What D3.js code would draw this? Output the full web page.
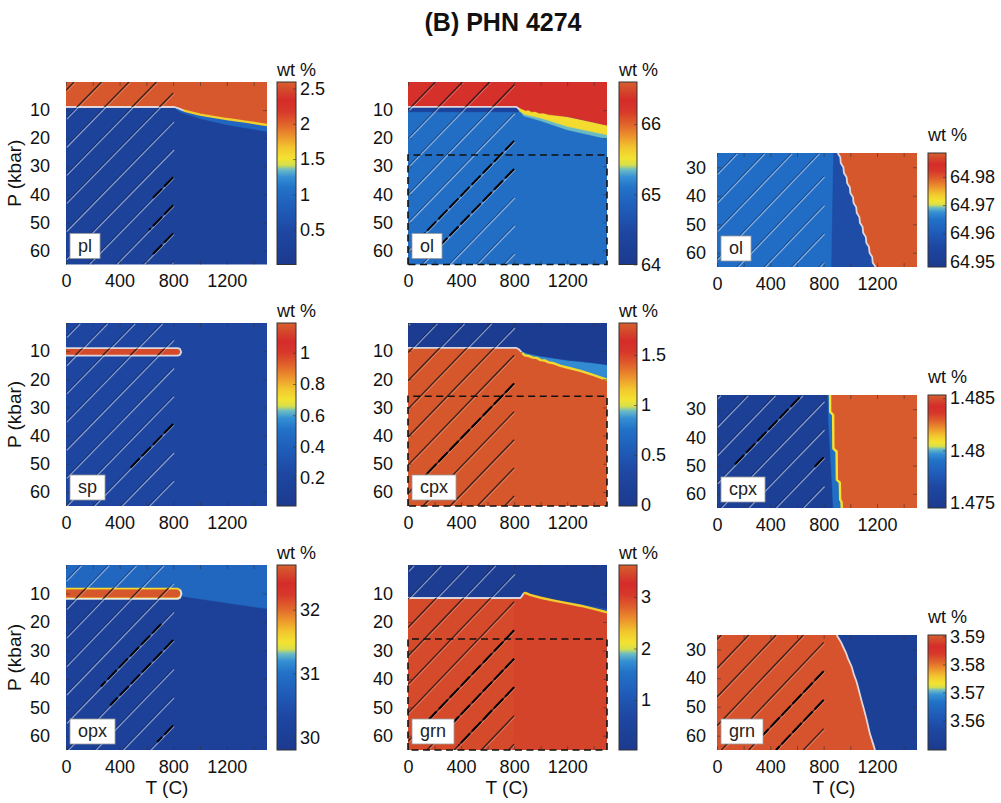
<!DOCTYPE html>
<html><head><meta charset="utf-8">
<script src="https://cdn.jsdelivr.net/npm/d3@7"></script>
<style>
html,body{margin:0;padding:0;background:#fff;}
svg{display:block;font-family:"Liberation Sans",Arial,Helvetica,sans-serif;}
</style></head><body>
<svg id="chart" width="1001" height="803"></svg>
<script>
// ================= DATA =================
const chartTitle = "(B) PHN 4274";
const tempDomain = [0, 1500];
const tempTicks = [0, 400, 800, 1200];
const tempMinorTicks = [0, 200, 400, 600, 800, 1000, 1200, 1400];
const pressDomainFull = [0, 65];
const pressDomainDeep = [25, 65];
const pressTicksFull = [10, 20, 30, 40, 50, 60];
const pressTicksDeep = [30, 40, 50, 60];
const pressMinorFull = [10, 20, 30, 40, 50, 60];
const hatchSlope = 20.5;      // degC per kbar along hatch lines
const hatchTmax = 800;        // hatched (sub-solidus) field ends at 800 C
const dashedBoxP = 26;        // dashed box upper edge (kbar)
const unitLabel = "wt %";
const xTitle = "T (C)";
const yTitle = "P (kbar)";

// colour-bar ranges and ticks
const plScale = [0.01, 2.59],        plTicks = [0.5, 1, 1.5, 2, 2.5];
const olScale = [64, 66.6],          olTicks = [64, 65, 66];
const olDeepScale = [64.948, 64.9885], olDeepTicks = [64.95, 64.96, 64.97, 64.98];
const spScale = [0.02, 1.19],        spTicks = [0.2, 0.4, 0.6, 0.8, 1];
const cpxScale = [-0.01, 1.82],      cpxTicks = [0, 0.5, 1, 1.5];
const cpxDeepScale = [1.4745, 1.4853], cpxDeepTicks = [1.475, 1.48, 1.485];
const opxScale = [29.8, 32.7],       opxTicks = [30, 31, 32];
const grnScale = [0.03, 3.62],       grnTicks = [1, 2, 3];
const grnDeepScale = [3.5495, 3.5905], grnDeepTicks = [3.56, 3.57, 3.58, 3.59];

// ---- fields: regions [T, P] with wt% value ----
const plRegions = [
  {v: 0.30, pts: "full"},
  {v: 0.95, pts: [[820,9.3],[1000,11.6],[1200,13.3],[1500,15.3],[1500,17.6],[1200,15.2],[1000,13.0],[860,10.8],[820,9.6]]},
  {v: 2.55, pts: [[0,0],[1500,0],[1500,15.3],[1350,14.2],[1200,13.2],[1000,11.6],[880,10.2],[840,9.4],[810,8.9],[0,8.9]]}
];
const plEdges = [
  {v: null, pts: [[0,8.9],[810,8.9],[840,9.4],[880,10.2]]},
  {v: 1.62, pts: [[880,10.2],[1000,11.6],[1200,13.2],[1350,14.2],[1500,15.3]]}
];
const plHatch = [60,265,470,675,880,1085,1290,1495,1700,1905,2110];
const plDark = [[1495,640,800],[1700,620,800],[1905,640,800]];

const olRegions = [
  {v: 65.04, pts: "full"},
  {v: 64.30, pts: [[0,8.9],[815,8.9],[835,10.6],[0,10.6]]},
  {v: 65.35, pts: [[850,10.5],[1000,12.5],[1200,15.5],[1500,18.6],[1500,20.2],[1200,17],[1000,13.8],[870,12]]},
  {v: 65.55, pts: [[830,9.2],[900,10],[1000,11],[1200,12.5],[1500,15.5],[1500,18.8],[1200,15.8],[1000,12.8],[880,11.5],[840,10.4]]},
  {v: 66.29, pts: [[0,0],[1500,0],[1500,15.4],[1350,13.8],[1200,12.3],[1060,11.6],[1020,11.0],[990,11.1],[960,10.5],[930,10.6],[905,9.9],[890,10.2],[860,9.6],[840,9.2],[815,8.8],[0,8.8]]}
];
const olEdges = [
  {v: null, pts: [[0,8.85],[815,8.85],[838,9.6]]}
];
const olHatch = [0,205,410,615,820,1025,1230,1435,1640,1845,2050];
const olDark = [[1230,100,800],[1435,200,800]];

const olDeepFront = [[905,25],[925,26.5],[928,28.5],[948,30],[952,32],[972,33.5],[976,35.5],[996,37],[1000,39],[1020,40.5],[1024,42.5],[1044,44],[1048,46],[1068,47.5],[1072,49.5],[1092,51],[1096,53],[1116,54.5],[1120,56.5],[1140,58],[1144,60],[1164,61.5],[1168,63.5],[1190,65]];
const olDeepRegions = [
  {v: 64.964, pts: "full"},
  {v: 64.9565, pts: [[875,25], ...olDeepFront, [860,65]]},
  {v: 64.9878, pts: [...olDeepFront, [1500,65],[1500,25]]}
];
const olDeepEdges = [{v: null, pts: olDeepFront}];
const olDeepHatch = [45,250,455,660,865,1070,1275,1480,1685,1890,2095];
const olDeepDark = [];

const spRegions = [
  {v: 0.20, pts: "full"},
  {v: 1.14, pts: [[0,9.1],[830,9.1],[847,9.5],[856,10.3],[847,11.1],[830,11.45],[0,11.45]]}
];
const spEdges = [
  {v: null, pts: [[0,11.6],[833,11.6],[850,11.3],[860,10.3],[850,9.2],[833,8.9],[0,8.9]]}
];
const spHatch = [100,305,510,715,920,1125,1330,1535,1740,1945,2150];
const spDark = [[1535,470,800]];

const cpxRegions = [
  {v: 1.79, pts: "full"},
  {v: 0.85, pts: [[840,0],[1500,0],[1500,20.2],[1400,18.5],[1300,17],[1200,15.8],[1150,15.2],[1100,14.3],[1060,14.0],[1030,13.3],[1000,13.2],[970,12.4],[940,12.3],[910,11.7],[880,11.5],[860,10.6],[840,9.6]]},
  {v: 0.05, pts: [[0,0],[1500,0],[1500,14.8],[1400,14.2],[1300,13.7],[1200,13.2],[1100,12.5],[1000,11.8],[950,11.3],[900,10.8],[860,10],[830,9.2],[815,8.8],[0,8.8]]}
];
const cpxEdges = [
  {v: null, pts: [[0,8.8],[815,8.8],[835,9.3],[855,10.3]]},
  {v: 1.10, pts: [[860,10.6],[880,11.5],[910,11.7],[940,12.3],[970,12.4],[1000,13.2],[1030,13.3],[1060,14.0],[1100,14.3],[1150,15.2],[1200,15.8],[1300,17],[1400,18.5],[1500,20.2]]}
];
const cpxHatch = [10,215,420,625,830,1035,1240,1445,1650,1855,2060];
const cpxDark = [[1240,100,800]];

const cpxDeepFront = [[848,25],[849,31],[871,32],[873,44],[897,45],[899,55],[921,56],[924,62],[934,63],[936,65]];
const cpxDeepRegions = [
  {v: 1.4754, pts: "full"},
  {v: 1.4788, pts: [[832,25], ...cpxDeepFront, [872,65],[862,55],[850,45],[838,35]]},
  {v: 1.4852, pts: [...cpxDeepFront, [1500,65],[1500,25]]}
];
const cpxDeepEdges = [{v: 1.4808, pts: cpxDeepFront}];
const cpxDeepHatch = [125,330,535,740,945,1150,1355,1560,1765,1970,2175];
const cpxDeepDark = [[1150,120,620],[1765,720,800]];

const opxRegions = [
  {v: 30.10, pts: "full"},
  {v: 30.85, pts: [[0,0],[1500,0],[1500,15.3],[1300,14.0],[1100,12.6],[900,11.2],[860,10.8],[0,10.8]]},
  {v: 31.55, pts: [[0,8.1],[835,8.1],[852,8.6],[862,10.0],[852,11.5],[835,11.9],[0,11.9]]},
  {v: 32.65, pts: [[0,8.7],[830,8.7],[846,9.1],[855,10.0],[846,11.0],[830,11.3],[0,11.3]]}
];
const opxEdges = [
  {v: null, pts: [[0,11.9],[835,11.9],[852,11.5],[862,10.0],[852,8.6]]}
];
const opxHatch = [110,315,520,725,930,1135,1340,1545,1750,1955,2160];
const opxDark = [[1135,260,710],[1340,330,800],[1955,680,800]];

const grnRegions = [
  {v: 3.47, pts: "full"},
  {v: 3.43, pts: [[800,0],[1500,0],[1500,65],[800,65]]},
  {v: 0.90, pts: [[1100,0],[1500,0],[1500,16.6],[1400,15.4],[1300,14.3],[1200,13.4],[1100,12.5]]},
  {v: 0.20, pts: [[0,0],[1500,0],[1500,15.3],[1400,14.4],[1300,13.6],[1200,12.9],[1100,12.1],[1000,11.4],[920,10.4],[885,9.8],[870,10.0],[858,11.0],[845,11.6],[0,11.6]]}
];
const grnEdges = [
  {v: null, pts: [[0,11.6],[845,11.6],[858,11.0],[870,10.0]]},
  {v: 2.30, pts: [[870,10.0],[885,9.8],[920,10.5],[1000,11.5],[1100,12.5],[1200,13.4],[1300,14.3],[1400,15.4],[1500,16.6]]}
];
const grnHatch = [40,245,450,655,860,1065,1270,1475,1680,1885,2090];
const grnDark = [[1270,100,800],[1475,250,800],[1680,380,800]];

const grnDeepFront = [[898,25],[930,27.5],[945,29],[970,31.5],[985,33.5],[1010,36],[1025,38.5],[1045,41],[1060,43.5],[1085,48],[1100,50.5],[1120,54],[1135,57],[1147,59.4],[1165,62],[1185,65]];
const grnDeepRegions = [
  {v: 3.5527, pts: "full"},
  {v: 3.5895, pts: [[0,25], ...grnDeepFront, [0,65]]}
];
const grnDeepEdges = [{v: null, pts: grnDeepFront}];
const grnDeepHatch = [135,340,545,750,955,1160,1365,1570,1775,1980,2185];
const grnDeepDark = [[1570,340,800],[1775,440,800]];

// ================= STYLE / LAYOUT =================
const cmapStops = [
  [0.00,"#1c3a8e"],[0.18,"#1e47a2"],[0.30,"#1f5bb8"],[0.42,"#2272c8"],[0.48,"#3590d4"],
  [0.52,"#6cbcc4"],[0.545,"#d6df4c"],[0.58,"#f3e331"],[0.64,"#f2c62e"],[0.70,"#ed962d"],
  [0.77,"#e0622b"],[0.84,"#d7382a"],[0.90,"#d52c2a"],[0.95,"#d4462b"],[1.00,"#d8602e"]
];
const layoutCols = [
  {x0:66, x1:267, cb0:277, cb1:296, titleX:167, yPad:16},
  {x0:408, x1:607, cb0:619, cb1:637, titleX:507, yPad:15},
  {x0:717, x1:917, cb0:928, cb1:946, titleX:834, yPad:11}
];
const layoutRowsFull = [{y0:82, y1:264.5},{y0:323, y1:506},{y0:565, y1:750}];
const layoutRowsDeep = [{y0:153, y1:267},{y0:395, y1:508},{y0:635, y1:750}];

const panels = [
  {label:"pl",  col:0,row:0,deep:false,frame:false,cs:plScale,ct:plTicks,regions:plRegions,edges:plEdges,hatch:plHatch,dark:plDark},
  {label:"ol",  col:1,row:0,deep:false,frame:true, cs:olScale,ct:olTicks,regions:olRegions,edges:olEdges,hatch:olHatch,dark:olDark},
  {label:"ol",  col:2,row:0,deep:true, frame:false,cs:olDeepScale,ct:olDeepTicks,regions:olDeepRegions,edges:olDeepEdges,hatch:olDeepHatch,dark:olDeepDark},
  {label:"sp",  col:0,row:1,deep:false,frame:false,cs:spScale,ct:spTicks,regions:spRegions,edges:spEdges,hatch:spHatch,dark:spDark},
  {label:"cpx", col:1,row:1,deep:false,frame:true, cs:cpxScale,ct:cpxTicks,regions:cpxRegions,edges:cpxEdges,hatch:cpxHatch,dark:cpxDark},
  {label:"cpx", col:2,row:1,deep:true, frame:false,cs:cpxDeepScale,ct:cpxDeepTicks,regions:cpxDeepRegions,edges:cpxDeepEdges,hatch:cpxDeepHatch,dark:cpxDeepDark},
  {label:"opx", col:0,row:2,deep:false,frame:false,cs:opxScale,ct:opxTicks,regions:opxRegions,edges:opxEdges,hatch:opxHatch,dark:opxDark},
  {label:"grn", col:1,row:2,deep:false,frame:true, cs:grnScale,ct:grnTicks,regions:grnRegions,edges:grnEdges,hatch:grnHatch,dark:grnDark},
  {label:"grn", col:2,row:2,deep:true, frame:false,cs:grnDeepScale,ct:grnDeepTicks,regions:grnDeepRegions,edges:grnDeepEdges,hatch:grnDeepHatch,dark:grnDeepDark}
];

// ================= RENDER =================
const svg = d3.select("#chart");
svg.append("rect").attr("width",1001).attr("height",803).attr("fill","#fff");
const defs = svg.append("defs");

svg.append("text").attr("x",503).attr("y",31).attr("text-anchor","middle")
  .attr("font-weight","bold").attr("font-size",25).attr("fill","#111").text(chartTitle);

const grad = defs.append("linearGradient").attr("id","cmap").attr("x1",0).attr("y1",1).attr("x2",0).attr("y2",0);
cmapStops.forEach(s => grad.append("stop").attr("offset", s[0]).attr("stop-color", s[1]));

function hatchSegment(T0, tA, tB, pDom) {
  const Pa = Math.max(pDom[0], (T0 - tB) / hatchSlope);
  const Pb = Math.min(pDom[1], (T0 - tA) / hatchSlope);
  if (Pa >= Pb) return null;
  return [[T0 - hatchSlope * Pa, Pa], [T0 - hatchSlope * Pb, Pb]];
}

function styleAxisText(sel, size) {
  sel.selectAll("text").attr("font-size", size).attr("fill","#111")
    .attr("font-family",'"Liberation Sans",Arial,Helvetica,sans-serif');
  sel.select(".domain").remove();
}

panels.forEach((p, i) => {
  const c = layoutCols[p.col];
  const r = p.deep ? layoutRowsDeep[p.row] : layoutRowsFull[p.row];
  const pDom = p.deep ? pressDomainDeep : pressDomainFull;
  const x = d3.scaleLinear().domain(tempDomain).range([c.x0, c.x1]);
  const y = d3.scaleLinear().domain(pDom).range([r.y0, r.y1]);
  const [d0, d1] = p.cs;
  const color = d3.scaleLinear()
    .domain(cmapStops.map(s => d0 + s[0] * (d1 - d0)))
    .range(cmapStops.map(s => s[1])).clamp(true);
  const line = d3.line().x(d => x(d[0])).y(d => y(d[1]));
  const full = [[tempDomain[0],pDom[0]],[tempDomain[1],pDom[0]],[tempDomain[1],pDom[1]],[tempDomain[0],pDom[1]]];
  const regionPath = d => line(d.pts === "full" ? full : d.pts) + "Z";
  const isLow = d => (d.v - d0) / (d1 - d0) < 0.5;

  const clipId = "clip" + i;
  defs.append("clipPath").attr("id", clipId).append("rect")
    .attr("x", c.x0).attr("y", r.y0).attr("width", c.x1 - c.x0).attr("height", r.y1 - r.y0);
  // masks: where the field is blue (low) vs warm (high)
  ["low","high"].forEach(kind => {
    const m = defs.append("mask").attr("id", `m${kind}${i}`).attr("maskUnits","userSpaceOnUse")
      .attr("x", c.x0).attr("y", r.y0).attr("width", c.x1 - c.x0).attr("height", r.y1 - r.y0);
    m.selectAll("path").data(p.regions).join("path").attr("d", regionPath)
      .attr("fill", d => (isLow(d) === (kind === "low")) ? "#fff" : "#000");
  });
  const g = svg.append("g").attr("clip-path", `url(#${clipId})`);

  g.selectAll("path.region").data(p.regions).join("path").attr("class","region")
    .attr("d", regionPath)
    .attr("fill", d => color(d.v)).attr("stroke", d => color(d.v)).attr("stroke-width", 0.6);

  g.selectAll("path.edge").data(p.edges).join("path").attr("class","edge")
    .attr("d", d => line(d.pts)).attr("fill","none")
    .attr("stroke", d => d.v === null ? "#eceff2" : color(d.v))
    .attr("stroke-opacity", d => d.v === null ? 0.85 : 1)
    .attr("stroke-width", d => d.v === null ? 1.8 : 2.4)
    .attr("stroke-linejoin","round");

  // hatching of the sub-solidus field
  const segs = p.hatch.map(T0 => hatchSegment(T0, 0, hatchTmax, pDom)).filter(s => s);
  const gLow = g.append("g").attr("mask", `url(#mlow${i})`);
  gLow.selectAll("path.hd").data(segs).join("path").attr("class","hd")
    .attr("d", d => line(d)).attr("stroke","#151020").attr("stroke-opacity",0.45)
    .attr("stroke-width",1.0).attr("fill","none");
  gLow.selectAll("path.hl").data(segs).join("path").attr("class","hl")
    .attr("d", d => line(d)).attr("transform","translate(0.9,0.9)")
    .attr("stroke","#c9d6ec").attr("stroke-opacity",0.62).attr("stroke-width",1.2).attr("fill","none");
  const gHigh = g.append("g").attr("mask", `url(#mhigh${i})`);
  gHigh.selectAll("path.hl").data(segs).join("path").attr("class","hl")
    .attr("d", d => line(d)).attr("transform","translate(1.1,1.1)")
    .attr("stroke","#f2e6dc").attr("stroke-opacity",0.35).attr("stroke-width",1.0).attr("fill","none");
  gHigh.selectAll("path.hd").data(segs).join("path").attr("class","hd")
    .attr("d", d => line(d)).attr("stroke","#231a1a").attr("stroke-opacity",0.88)
    .attr("stroke-width",1.3).attr("fill","none");

  const darkSegs = p.dark.map(dk => hatchSegment(dk[0], dk[1], dk[2], pDom)).filter(s => s);
  g.selectAll("path.hk").data(darkSegs).join("path").attr("class","hk")
    .attr("d", d => line(d)).attr("stroke","#000").attr("stroke-width",2)
    .attr("stroke-dasharray","13,3").attr("fill","none");

  // inner ticks
  const ax = [
    svg.append("g").attr("transform",`translate(0,${r.y0})`).call(d3.axisTop(x).tickValues(tempMinorTicks).tickSize(-4).tickFormat("")),
    svg.append("g").attr("transform",`translate(0,${r.y1})`).call(d3.axisBottom(x).tickValues(tempMinorTicks).tickSize(-4).tickFormat("")),
    svg.append("g").attr("transform",`translate(${c.x0},0)`).call(d3.axisLeft(y).tickValues(p.deep ? pressTicksDeep : pressMinorFull).tickSize(-4).tickFormat("")),
    svg.append("g").attr("transform",`translate(${c.x1},0)`).call(d3.axisRight(y).tickValues(p.deep ? pressTicksDeep : pressMinorFull).tickSize(-4).tickFormat(""))
  ];
  ax.forEach(a => { a.select(".domain").remove(); a.selectAll("line").attr("stroke","#333").attr("stroke-opacity",0.55); });

  const xa = svg.append("g").attr("transform",`translate(0,${r.y1})`)
    .call(d3.axisBottom(x).tickValues(tempTicks).tickSize(0).tickPadding(10).tickFormat(d3.format("d")));
  styleAxisText(xa, 18);
  const ya = svg.append("g").attr("transform",`translate(${c.x0},0)`)
    .call(d3.axisLeft(y).tickValues(p.deep ? pressTicksDeep : pressTicksFull).tickSize(0).tickPadding(c.yPad));
  styleAxisText(ya, 18);

  if (p.frame) {
    svg.append("path")
      .attr("d", line([[tempDomain[0],pDom[1]],[tempDomain[0],dashedBoxP],[tempDomain[1],dashedBoxP],[tempDomain[1],pDom[1]],[tempDomain[0],pDom[1]]]))
      .attr("fill","none").attr("stroke","#111").attr("stroke-width",1.6).attr("stroke-dasharray","7,4.5");
  }

  const lb = svg.append("g");
  const lt = lb.append("text").attr("font-size",18).attr("fill","#222").text(p.label);
  const tw = lt.node().getComputedTextLength();
  const bw = tw + 16, bh = 25;
  const bx = c.x0 + 4, by = r.y1 - 6 - bh;
  lb.insert("rect","text").attr("x",bx).attr("y",by).attr("width",bw).attr("height",bh)
    .attr("fill","#fff").attr("stroke","#9a9a9a").attr("stroke-width",0.8);
  lt.attr("x", bx + bw/2).attr("y", by + 18).attr("text-anchor","middle");

  const cy = d3.scaleLinear().domain(p.cs).range([r.y1, r.y0]);
  svg.append("rect").attr("x",c.cb0).attr("y",r.y0).attr("width",c.cb1-c.cb0).attr("height",r.y1-r.y0)
    .attr("fill","url(#cmap)").attr("stroke","#333").attr("stroke-width",1);
  const ca = svg.append("g").attr("transform",`translate(${c.cb1},0)`)
    .call(d3.axisRight(cy).tickValues(p.ct).tickSize(-3).tickPadding(4).tickFormat(d3.format("")));
  styleAxisText(ca, 18);
  ca.selectAll("line").attr("stroke","#333").attr("stroke-opacity",0.6);
  svg.append("text").attr("x",c.cb0).attr("y",r.y0 - (p.deep ? 12 : 6))
    .attr("font-size",18).attr("fill","#111").text(unitLabel);

  if (p.col === 0) {
    svg.append("text").attr("transform",`translate(21,${(r.y0+r.y1)/2}) rotate(-90)`)
      .attr("text-anchor","middle").attr("font-size",19).attr("fill","#111").text(yTitle);
  }
  if (p.row === 2) {
    svg.append("text").attr("x",c.titleX).attr("y",794).attr("text-anchor","middle")
      .attr("font-size",19).attr("fill","#111").text(xTitle);
  }
});
</script>
</body></html>
